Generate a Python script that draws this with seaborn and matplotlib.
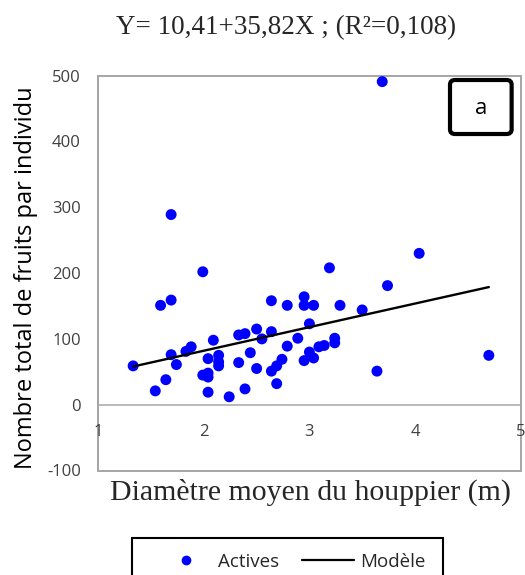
import matplotlib
matplotlib.use("Agg")
import matplotlib.pyplot as plt
from matplotlib.lines import Line2D
from matplotlib.patches import Rectangle, FancyBboxPatch
import numpy as np
import pandas as pd
import seaborn as sns

# ---- data ----
diametre = [1.33, 1.54, 1.64, 1.59, 1.69, 1.69, 1.74, 1.83, 1.88, 1.99,
            2.04, 1.99, 2.04, 2.04, 2.04, 2.09, 2.14, 2.14, 2.14, 2.24,
            2.33, 2.33, 2.39, 2.39, 2.44, 2.50, 2.50, 2.55, 2.64, 2.64,
            2.64, 2.69, 2.69, 2.74, 2.79, 2.79, 2.89, 2.95, 2.95, 2.95,
            3.00, 3.00, 3.04, 3.04, 3.09, 3.14, 3.19, 3.24, 3.24, 3.29,
            3.50, 3.64, 3.74, 4.70, 1.69, 3.69, 4.04]
fruits = [59, 21, 38, 151, 159, 76, 61, 81, 88, 202,
          70, 45, 48, 42, 19, 98, 75, 65, 59, 12,
          64, 106, 108, 24, 79, 115, 55, 100, 158, 111,
          51, 59, 32, 69, 89, 151, 101, 164, 151, 67,
          123, 80, 151, 71, 88, 90, 208, 101, 94, 151,
          144, 51, 181, 75, 289, 491, 230]
intercept = 10.41
slope = 35.82
r2 = 0.108
x_ticks = [1, 2, 3, 4, 5]
y_ticks = [-100, 0, 100, 200, 300, 400, 500]
series_labels = ["Actives", "Modèle"]
title_text = "Y= 10,41+35,82X ; (R²=0,108)"
xlabel_text = "Diamètre moyen du houppier (m)"
ylabel_text = "Nombre total de fruits par individu"
panel_label = "a"

df = pd.DataFrame({"x": diametre, "y": fruits})
xs = np.array([min(diametre), max(diametre)])
line_df = pd.DataFrame({"x": xs, "y": intercept + slope * xs})

sns.set_style("white")
plt.rcParams["font.family"] = ["Open Sans", "DejaVu Sans"]
plt.rcParams["axes.unicode_minus"] = False

W, H = 525, 575
fig = plt.figure(figsize=(W / 100, H / 100), dpi=100)
ax = fig.add_axes([98.3 / W, 1 - 470.5 / H, 422.2 / W, 394.8 / H])
ax.set_axisbelow(False)

blue = "#0000ff"
grey = "#a6a6a6"

sns.scatterplot(data=df, x="x", y="y", ax=ax, color=blue, s=62,
                linewidth=0, edgecolor="none", zorder=3, legend=False)
sns.lineplot(data=line_df, x="x", y="y", ax=ax, color="black",
             linewidth=1.7, zorder=4, legend=False)

ax.set_xlim(x_ticks[0], x_ticks[-1])
ax.set_ylim(y_ticks[0], y_ticks[-1])
ax.set_xticks(x_ticks)
ax.set_yticks(y_ticks)
ax.set_xlabel("")
ax.set_ylabel("")

for s in ["top", "right"]:
    ax.spines[s].set_visible(False)
ax.spines["left"].set_color(grey)
ax.spines["bottom"].set_color(grey)
ax.spines["left"].set_linewidth(1.1)
ax.spines["bottom"].set_linewidth(1.1)
ax.spines["bottom"].set_position(("data", 0))
frame = Rectangle((0, 0), 1, 1, transform=ax.transAxes, fill=False,
                  edgecolor=grey, linewidth=1.4, clip_on=False, zorder=0.3)
ax.add_patch(frame)

ax.tick_params(axis="both", direction="inout", length=7, width=1,
               color=grey, labelcolor="#404040", labelsize=12)
ax.tick_params(axis="x", pad=10.5)
ax.tick_params(axis="y", pad=9)

# panel label box
box = FancyBboxPatch((0.833, 0.8523), 0.146, 0.1368,
                     boxstyle="round,pad=0,rounding_size=0.012",
                     transform=ax.transAxes, facecolor="white",
                     edgecolor="black", linewidth=3, zorder=5)
ax.add_patch(box)
ax.text(0.906, 0.918, panel_label, transform=ax.transAxes, ha="center",
        va="center", fontsize=16, color="black", zorder=6)

# texts
fig.text(286.5 / W, 1 - 28 / H, title_text, ha="center", va="center",
         fontsize=19.5, family=["Liberation Serif", "DejaVu Serif"])
fig.text(311 / W, 1 - 492 / H, xlabel_text, ha="center", va="center",
         fontsize=21.5, family=["Liberation Serif", "DejaVu Serif"])
fig.text(26 / W, 1 - 278 / H, ylabel_text,
         ha="center", va="center", rotation=90, fontsize=17, color="black")

# legend (frame drawn as a separate rectangle in figure pixels)
fs = 13.5
fs_px = fs * 100 / 72
bp = 0.78
handles = [Line2D([], [], marker="o", linestyle="none", color=blue,
                  markersize=7, markeredgewidth=0),
           Line2D([], [], color="black", linewidth=1.6)]
leg = fig.legend(handles, series_labels, loc="upper left",
                 bbox_to_anchor=((160 - bp * fs_px) / W, 1 - 538 / H), ncol=2,
                 frameon=False, fontsize=fs, handlelength=2.8,
                 handletextpad=0.3, columnspacing=1.2, borderpad=bp,
                 borderaxespad=0)
legbox = Rectangle((132 / W, 1 - 600 / H), (443 - 132) / W, (600 - 538) / H,
                   transform=fig.transFigure, fill=False, edgecolor="black",
                   linewidth=1.5)
fig.patches.append(legbox)

fig.savefig("out.png", dpi=100)
